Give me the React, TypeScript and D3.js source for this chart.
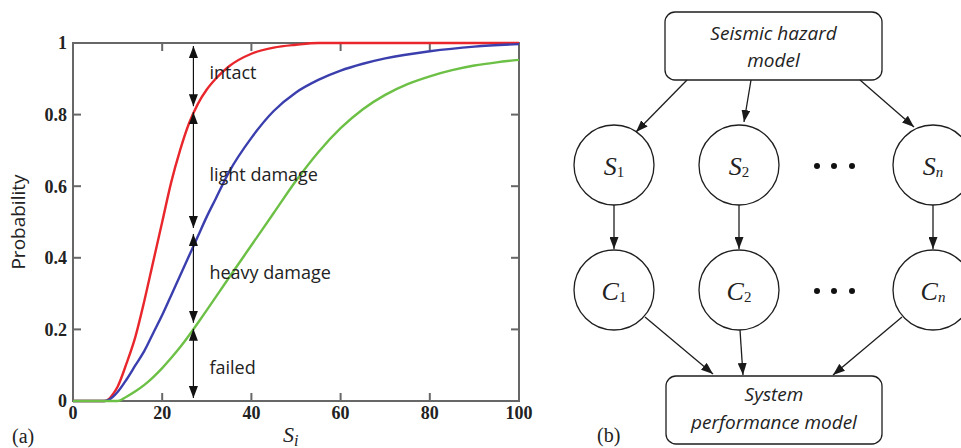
import React, { useRef, useEffect } from "react";
import * as d3 from "d3";

// fragility curves: S_i -> probability
const intactS = [0, 7, 8, 9, 10, 12, 14, 16, 18, 20, 22, 24, 26, 28, 30, 32, 35, 40, 45, 50, 55, 100];
const intactP = [0, 0, 0.005, 0.02, 0.04, 0.105, 0.18, 0.28, 0.39, 0.5, 0.61, 0.7, 0.775, 0.83, 0.87, 0.9, 0.935, 0.97, 0.987, 0.995, 1, 1];

const lightS = [0, 7, 8, 10, 12, 14, 16, 18, 20, 22, 24, 26, 28, 30, 32, 35, 40, 45, 50, 55, 60, 65, 70, 80, 90, 100];
const lightP = [0, 0, 0.003, 0.025, 0.06, 0.1, 0.14, 0.19, 0.24, 0.295, 0.35, 0.405, 0.46, 0.515, 0.565, 0.64, 0.735, 0.81, 0.862, 0.897, 0.923, 0.942, 0.957, 0.977, 0.99, 0.997];

const heavyS = [0, 10, 12, 14, 16, 18, 20, 22, 24, 26, 28, 30, 35, 40, 45, 50, 55, 60, 65, 70, 75, 80, 85, 90, 95, 100];
const heavyP = [0, 0, 0.012, 0.027, 0.045, 0.067, 0.092, 0.12, 0.15, 0.183, 0.218, 0.254, 0.345, 0.435, 0.525, 0.615, 0.695, 0.762, 0.815, 0.855, 0.885, 0.907, 0.924, 0.937, 0.946, 0.953];

const curveColors = ["#e8262b", "#3b3fae", "#6cc045"];

// damage-state arrows at S_i ~ 27
const arrowS = 27;
const stateBounds = [1, 0.815, 0.475, 0.21, 0];
const stateLabels = ["intact", "light damage", "heavy damage", "failed"];
const stateLabelP = [0.905, 0.62, 0.345, 0.08];

const xTicks = [0, 20, 40, 60, 80, 100];
const yTicks = [0, 0.2, 0.4, 0.6, 0.8, 1];

// diagram (b)
const nodeSubs = ["1", "2", "n"];

const App = () => {
  const ref = useRef(null);

  useEffect(() => {
    const W = 961;
    const H = 448;
    const svg = d3.select(ref.current);
    svg.selectAll("*").remove();
    svg.attr("width", W).attr("height", H);

    const defs = svg.append("defs");
    defs
      .append("marker")
      .attr("id", "headA")
      .attr("viewBox", "0 0 12 9")
      .attr("refX", 12)
      .attr("refY", 4.5)
      .attr("markerWidth", 12)
      .attr("markerHeight", 9)
      .attr("markerUnits", "userSpaceOnUse")
      .attr("orient", "auto-start-reverse")
      .append("path")
      .attr("d", "M0,0L12,4.5L0,9Z")
      .attr("fill", "#111");
    defs
      .append("marker")
      .attr("id", "headB")
      .attr("viewBox", "0 0 12 9")
      .attr("refX", 12)
      .attr("refY", 4.5)
      .attr("markerWidth", 12)
      .attr("markerHeight", 9)
      .attr("markerUnits", "userSpaceOnUse")
      .attr("orient", "auto")
      .append("path")
      .attr("d", "M0,0L12,4.5L0,9Z")
      .attr("fill", "#1a1a1a");

    // ---------- (a) fragility curves ----------
    const x = d3.scaleLinear().domain([0, 100]).range([73, 519]);
    const y = d3.scaleLinear().domain([0, 1]).range([401, 43]);
    const axisCol = "#676767";

    const g = svg.append("g");
    g.append("rect")
      .attr("x", x(0))
      .attr("y", y(1))
      .attr("width", x(100) - x(0))
      .attr("height", y(0) - y(1))
      .attr("fill", "none")
      .attr("stroke", axisCol)
      .attr("stroke-width", 2);

    const inner = [20, 40, 60, 80];
    inner.forEach((v) => {
      g.append("line").attr("x1", x(v)).attr("x2", x(v)).attr("y1", y(0)).attr("y2", y(0) - 8)
        .attr("stroke", axisCol).attr("stroke-width", 2);
      g.append("line").attr("x1", x(v)).attr("x2", x(v)).attr("y1", y(1)).attr("y2", y(1) + 8)
        .attr("stroke", axisCol).attr("stroke-width", 2);
    });
    [0.2, 0.4, 0.6, 0.8].forEach((v) => {
      g.append("line").attr("x1", x(0)).attr("x2", x(0) + 8).attr("y1", y(v)).attr("y2", y(v))
        .attr("stroke", axisCol).attr("stroke-width", 2);
      g.append("line").attr("x1", x(100)).attr("x2", x(100) - 8).attr("y1", y(v)).attr("y2", y(v))
        .attr("stroke", axisCol).attr("stroke-width", 2);
    });

    g.selectAll(".xt")
      .data(xTicks)
      .join("text")
      .attr("x", (d) => x(d))
      .attr("y", 419)
      .attr("text-anchor", "middle")
      .attr("font-family", "Liberation Serif")
      .attr("font-weight", "bold")
      .attr("font-size", 18)
      .attr("fill", "#222")
      .text((d) => d);

    g.selectAll(".yt")
      .data(yTicks)
      .join("text")
      .attr("x", 67)
      .attr("y", (d) => y(d))
      .attr("dy", "0.35em")
      .attr("text-anchor", "end")
      .attr("font-family", "Liberation Serif")
      .attr("font-weight", "bold")
      .attr("font-size", 18)
      .attr("fill", "#222")
      .text((d) => d);

    const series = [
      [intactS, intactP],
      [lightS, lightP],
      [heavyS, heavyP],
    ];
    const line = d3
      .line()
      .x((d) => x(d[0]))
      .y((d) => y(d[1]))
      .curve(d3.curveMonotoneX);
    series.forEach(([s, p], i) => {
      g.append("path")
        .attr("d", line(s.map((v, j) => [v, p[j]])))
        .attr("fill", "none")
        .attr("stroke", curveColors[i])
        .attr("stroke-width", 2.4);
    });

    // double arrows
    for (let i = 0; i < stateLabels.length; i++) {
      g.append("line")
        .attr("x1", x(arrowS))
        .attr("x2", x(arrowS))
        .attr("y1", y(stateBounds[i]) + 3)
        .attr("y2", y(stateBounds[i + 1]) - 3)
        .attr("stroke", "#111")
        .attr("stroke-width", 1.2)
        .attr("marker-start", "url(#headA)")
        .attr("marker-end", "url(#headA)");
      g.append("text")
        .attr("x", x(arrowS) + 16)
        .attr("y", y(stateLabelP[i]))
        .attr("dy", "0.1em")
        .attr("font-family", "Open Sans")
        .attr("font-size", 18)
        .attr("fill", "#222")
        .text(stateLabels[i]);
    }

    g.append("text")
      .attr("transform", "translate(25,222) rotate(-90)")
      .attr("text-anchor", "middle")
      .attr("font-family", "Open Sans")
      .attr("font-size", 19)
      .attr("fill", "#222")
      .text("Probability");

    const xl = g.append("text")
      .attr("x", 283)
      .attr("y", 442)
      .attr("font-family", "Liberation Serif")
      .attr("font-style", "italic")
      .attr("font-size", 22)
      .attr("fill", "#222");
    xl.append("tspan").text("S");
    xl.append("tspan").attr("dy", 4).attr("font-size", 16).text("i");

    g.append("text")
      .attr("x", 12)
      .attr("y", 443)
      .attr("font-family", "Liberation Serif")
      .attr("font-size", 20)
      .attr("fill", "#222")
      .text("(a)");

    // ---------- (b) network diagram ----------
    const d = svg.append("g");
    const colX = d3.scaleOrdinal().domain(nodeSubs).range([614, 739, 933]);
    const rowY = { S: 165, C: 290 };
    const r = 40;
    const stroke = "#1e1e1e";

    const boxes = [
      { x: 665, y: 12, w: 217, h: 68, lines: ["Seismic hazard", "model"], base: [40, 67] },
      { x: 666, y: 376, w: 216, h: 68, lines: ["System", "performance model"], base: [401, 429] },
    ];
    boxes.forEach((b) => {
      d.append("rect")
        .attr("x", b.x).attr("y", b.y).attr("width", b.w).attr("height", b.h)
        .attr("rx", 10)
        .attr("fill", "#fff").attr("stroke", stroke).attr("stroke-width", 1.3);
      b.lines.forEach((t, i) => {
        d.append("text")
          .attr("x", b.x + b.w / 2)
          .attr("y", b.base[i])
          .attr("text-anchor", "middle")
          .attr("font-family", "Open Sans")
          .attr("font-style", "italic")
          .attr("font-size", 19)
          .attr("fill", "#222")
          .text(t);
      });
    });

    Object.entries(rowY).forEach(([letter, cy]) => {
      nodeSubs.forEach((s) => {
        d.append("circle")
          .attr("cx", colX(s)).attr("cy", cy).attr("r", r)
          .attr("fill", "#fff").attr("stroke", stroke).attr("stroke-width", 1.3);
        const t = d.append("text")
          .attr("x", colX(s))
          .attr("y", cy + 10)
          .attr("text-anchor", "middle")
          .attr("font-family", "Liberation Serif")
          .attr("font-size", 26)
          .attr("fill", "#222");
        t.append("tspan").attr("font-style", "italic").text(letter);
        t.append("tspan")
          .attr("dy", 2)
          .attr("font-size", 15)
          .attr("font-style", s === "n" ? "italic" : "normal")
          .text(s);
      });
      [817, 834, 852].forEach((cx) => {
        d.append("circle").attr("cx", cx).attr("cy", cy + 1).attr("r", 3).attr("fill", "#111");
      });
    });

    const links = [
      [687, 80, 636, 132],
      [751, 80, 744, 122],
      [860, 80, 914, 127],
      [614, 205, 614, 249],
      [739, 205, 739, 249],
      [933, 205, 933, 249],
      [645, 317, 713, 374],
      [740, 330, 743, 375],
      [902, 317, 833, 375],
    ];
    links.forEach(([x1, y1, x2, y2]) => {
      d.append("line")
        .attr("x1", x1).attr("y1", y1).attr("x2", x2).attr("y2", y2)
        .attr("stroke", stroke).attr("stroke-width", 1.3)
        .attr("marker-end", "url(#headB)");
    });

    d.append("text")
      .attr("x", 597)
      .attr("y", 442)
      .attr("font-family", "Liberation Serif")
      .attr("font-size", 20)
      .attr("fill", "#222")
      .text("(b)");
  }, []);

  return (
    <div style={{ position: "absolute", left: 0, top: 0 }}>
      <svg ref={ref}></svg>
    </div>
  );
};

export default App;
